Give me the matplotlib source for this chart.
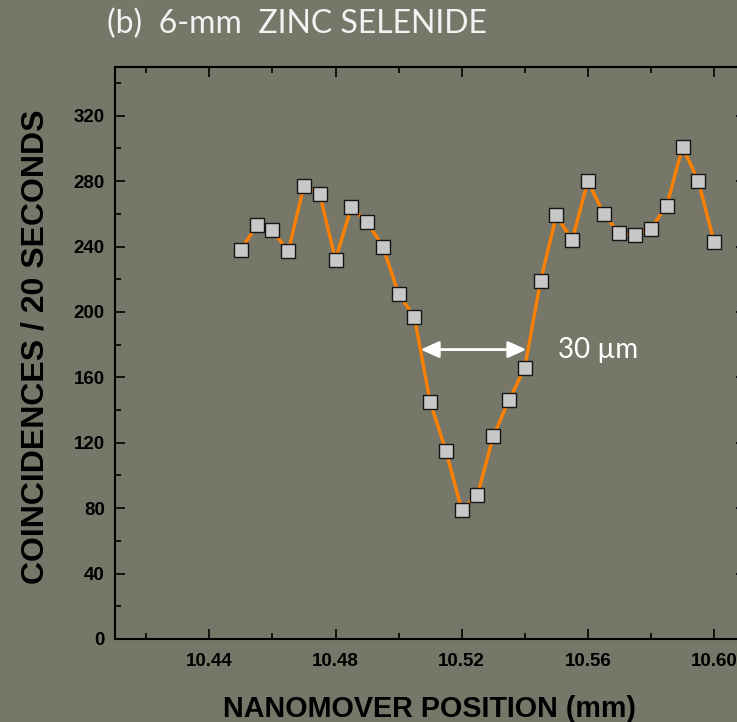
import matplotlib
matplotlib.use("Agg")
import matplotlib.pyplot as plt
from matplotlib.ticker import MultipleLocator, FormatStrFormatter

# nanomover scan, 5 um steps
position = [10.450, 10.455, 10.460, 10.465, 10.470, 10.475, 10.480, 10.485,
            10.490, 10.495, 10.500, 10.505, 10.510, 10.515, 10.520, 10.525,
            10.530, 10.535, 10.540, 10.545, 10.550, 10.555, 10.560, 10.565,
            10.570, 10.575, 10.580, 10.585, 10.590, 10.595, 10.600]
counts = [238, 253, 250, 237, 277, 272, 232, 264, 255, 240, 211, 197,
          145, 115, 79, 88, 124, 146, 166, 219, 259, 244, 280, 260,
          248, 247, 251, 265, 301, 280, 243]

# width marker across the dip
width_left, width_right, width_level = 10.507, 10.5405, 177
width_text = "30 \u00b5m"

W, H = 737, 722
bg = "#767769"
fig = plt.figure(figsize=(W / 100, H / 100), dpi=100, facecolor=bg)
ax = fig.add_axes([0.1556, 0.115, 0.8561, 0.7926], facecolor=bg)

ax.plot(position, counts, color="#ff8000", lw=2.4, zorder=2)
ax.plot(position, counts, ls="none", marker="s", ms=10, mfc="#c8c8c8",
        mec="#151515", mew=1.0, zorder=3)

ax.annotate("", xy=(width_right, width_level), xytext=(width_left, width_level),
            arrowprops=dict(arrowstyle="<|-|>,head_length=0.55,head_width=0.25",
                            color="white", lw=2, mutation_scale=20,
                            shrinkA=0, shrinkB=0), zorder=4)
ax.text(10.5504, width_level, width_text, color="white", fontsize=20,
        family=["Lato", "DejaVu Sans"], ha="left", va="center")

ax.set_xlim(10.41, 10.61)
ax.set_ylim(0, 350)
ax.xaxis.set_major_locator(MultipleLocator(0.04))
ax.xaxis.set_minor_locator(MultipleLocator(0.02))
ax.xaxis.set_major_formatter(FormatStrFormatter("%.2f"))
ax.yaxis.set_major_locator(MultipleLocator(40))
ax.yaxis.set_minor_locator(MultipleLocator(20))

ax.tick_params(which="both", direction="in", top=True, right=True,
               colors="black", width=1.2)
ax.tick_params(which="major", length=7.2)
ax.tick_params(which="minor", length=4.3)
ax.tick_params(axis="x", which="major", pad=10)
ax.tick_params(axis="y", which="major", pad=7)
for lab in ax.get_xticklabels() + ax.get_yticklabels():
    lab.set_fontfamily("Liberation Sans")
    lab.set_fontweight("bold")
    lab.set_fontsize(13.5)
for sp in ax.spines.values():
    sp.set_linewidth(1.5)
    sp.set_color("black")

# axis titles placed in figure pixels
fig.text(429.7 / W, 1 - 716.7 / H, "NANOMOVER POSITION (mm)",
         family="Liberation Sans", weight="bold", fontsize=20.7,
         color="black", ha="center", va="baseline")
fig.text(43.3 / W, 1 - 347 / H, "COINCIDENCES / 20 SECONDS",
         family="Liberation Sans", weight="bold", fontsize=23,
         color="black", ha="center", va="baseline", rotation=90,
         rotation_mode="anchor")

fig.text(107 / W, 1 - 33.3 / H, "(b)  6-mm  ZINC SELENIDE",
         color="#f2f2f2", fontsize=23, family=["Lato", "DejaVu Sans"],
         ha="left", va="baseline")

fig.savefig("out.png", dpi=100, facecolor=bg)
